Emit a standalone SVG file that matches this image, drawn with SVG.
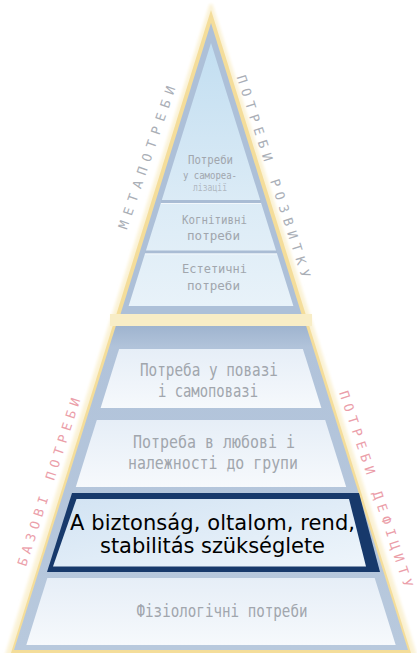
<svg xmlns="http://www.w3.org/2000/svg" width="417" height="653" viewBox="0 0 417 653">
<defs>
<linearGradient id="gTop" x1="0" y1="0" x2="0" y2="1"><stop offset="0" stop-color="#c2def1"/><stop offset="0.6" stop-color="#dbebf6"/><stop offset="1" stop-color="#e8f2f9"/></linearGradient>
<linearGradient id="gTrap" x1="0" y1="0" x2="0" y2="1"><stop offset="0" stop-color="#9fb4cf"/><stop offset="0.065" stop-color="#b1c3da"/><stop offset="1" stop-color="#b8c9dd"/></linearGradient>
<linearGradient id="gBox" x1="0" y1="0" x2="0" y2="1"><stop offset="0" stop-color="#e6eef7"/><stop offset="1" stop-color="#f6f9fc"/></linearGradient>
<linearGradient id="gHi" x1="0" y1="0" x2="1" y2="1"><stop offset="0" stop-color="#d2e3f3"/><stop offset="1" stop-color="#eef5fb"/></linearGradient>
<filter id="soft" x="-10%" y="-10%" width="120%" height="120%"><feGaussianBlur stdDeviation="1.6"/></filter>
</defs>
<style>
.box{fill:url(#gBox)}
.t{font-family:"DejaVu Sans Mono",monospace;fill:#a1a6ad;text-anchor:middle}
.lbl{font-family:"DejaVu Sans Mono",monospace;font-size:13px;text-anchor:middle;dominant-baseline:central}
.grey{fill:#a9aeb6}
.pink{fill:#eb9ea9}
.div{stroke:#a9bcd4;stroke-width:3}
.hi{font-family:"DejaVu Sans",sans-serif;font-size:21px;fill:#000;text-anchor:middle}
</style>
<rect width="417" height="653" fill="#ffffff"/>
<g id="frame">
<polygon points="211,6 7,655 415,655" fill="#f9efcc" stroke="#fbf3d8" stroke-width="4" stroke-linejoin="round" filter="url(#soft)"/>
<polygon points="211,10 11,653 411,653" fill="#f4dd9a"/>
<rect x="110" y="314" width="202" height="12" fill="#f8edc6"/>
</g>
<g id="top-triangle">
<polygon points="211,23 120.5,314 301.5,314" fill="#adc0d8"/>
<polygon points="211,43 128.6,306 293.4,306" fill="url(#gTop)"/>
<line class="div" x1="161" y1="201.5" x2="261" y2="201.5"/>
<line x1="161" y1="203.5" x2="261" y2="203.5" stroke="#f2f7fb" stroke-width="1"/>
<line class="div" x1="145" y1="252" x2="277" y2="252"/>
<line x1="145" y1="254" x2="277" y2="254" stroke="#f2f7fb" stroke-width="1"/>
</g>
<g id="node-self-actualization">
<text class="t" x="210.5" y="164" font-size="12" textLength="45" lengthAdjust="spacingAndGlyphs">Потреби</text>
<text class="t" x="210" y="178.5" font-size="10.5" textLength="54" lengthAdjust="spacingAndGlyphs">у самореа-</text>
<text class="t" x="210" y="191" font-size="10" textLength="34" lengthAdjust="spacingAndGlyphs" fill-opacity="0.75">лізації</text>
</g>
<g id="node-cognitive">
<text class="t" x="214.5" y="224" font-size="13" textLength="65" lengthAdjust="spacingAndGlyphs">Когнітивні</text>
<text class="t" x="213.5" y="240" font-size="13" textLength="53" lengthAdjust="spacingAndGlyphs">потреби</text>
</g>
<g id="node-aesthetic">
<text class="t" x="214.5" y="273" font-size="13" textLength="65" lengthAdjust="spacingAndGlyphs">Естетичні</text>
<text class="t" x="213.5" y="290" font-size="13" textLength="53" lengthAdjust="spacingAndGlyphs">потреби</text>
</g>
<g id="trapezoid">
<polygon points="115.8,326 306.2,326 408,650 14,650" fill="url(#gTrap)"/>
</g>
<g id="node-esteem">
<polygon class="box" points="119.1,349 302.9,349 321.4,408 100.6,408"/>
<text class="t" x="209" y="376" font-size="17" textLength="138" lengthAdjust="spacingAndGlyphs">Потреба у повазі</text>
<text class="t" x="208" y="397" font-size="17" textLength="100" lengthAdjust="spacingAndGlyphs">і самоповазі</text>
</g>
<g id="node-love">
<polygon class="box" points="96.8,420 325.2,420 346.2,487 75.8,487"/>
<text class="t" x="214" y="448" font-size="17" textLength="162" lengthAdjust="spacingAndGlyphs">Потреба в любові і</text>
<text class="t" x="213" y="469" font-size="17" textLength="170" lengthAdjust="spacingAndGlyphs">належності до групи</text>
</g>
<g id="node-safety">
<polygon points="72,493 359,493 380,572 47,572" fill="#17396b"/>
<polygon points="76.5,499 349,499 366,566.5 53,566.5" fill="url(#gHi)"/>
<text class="hi" x="212.5" y="530" textLength="285" lengthAdjust="spacing">A biztonság, oltalom, rend,</text>
<text class="hi" x="212.5" y="553" textLength="225" lengthAdjust="spacing">stabilitás szükséglete</text>
</g>
<g id="node-physiological">
<polygon class="box" points="47.3,578 374.7,578 395.7,645 26.3,645"/>
<text class="t" x="222" y="617" font-size="17" textLength="171" lengthAdjust="spacingAndGlyphs">Фізіологічні потреби</text>
</g>
<g id="labels">
<text class="lbl grey" transform="translate(147,157.5) rotate(-71)" textLength="150" lengthAdjust="spacing">МЕТАПОТРЕБИ</text>
<text class="lbl grey" transform="translate(273.5,176.5) rotate(72)" textLength="212" lengthAdjust="spacing">ПОТРЕБИ РОЗВИТКУ</text>
<text class="lbl pink" transform="translate(49,482) rotate(-72)" textLength="176" lengthAdjust="spacing">БАЗОВІ ПОТРЕБИ</text>
<text class="lbl pink" transform="translate(376,489) rotate(71.5)" textLength="206" lengthAdjust="spacing">ПОТРЕБИ ДЕФІЦИТУ</text>
</g>
</svg>
